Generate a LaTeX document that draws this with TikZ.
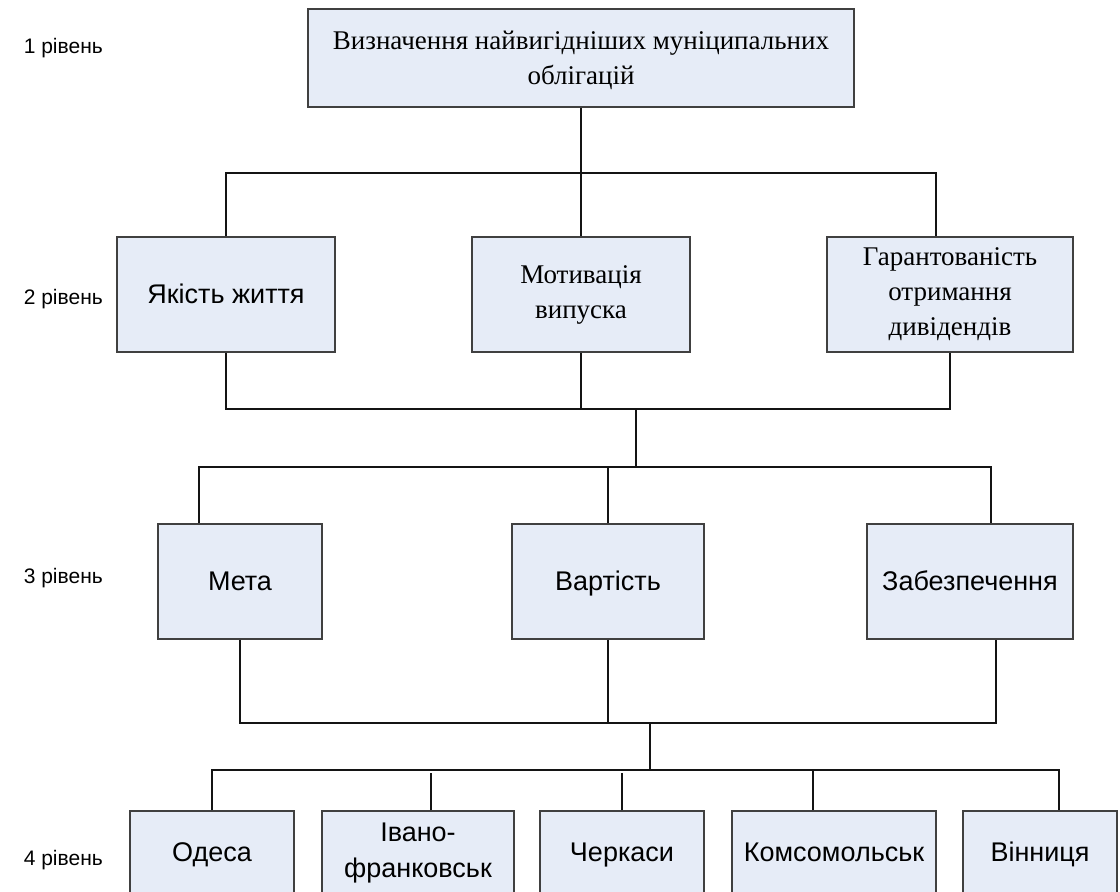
\documentclass[tikz,border=0pt]{standalone}
\usepackage{fontspec}
\setmainfont{Liberation Serif}
\newfontfamily\arialf{Liberation Sans}
\definecolor{boxfill}{RGB}{230,236,247}
\definecolor{boxedge}{RGB}{64,64,64}
\definecolor{linecol}{RGB}{20,20,20}
\tikzset{
  box/.style={draw=boxedge, fill=boxfill, line width=1.2pt, align=center, inner sep=0pt},
  sbox/.style={box, font=\arialf\fontsize{27}{36}\selectfont},
  sone/.style={sbox, text height=21pt, text depth=4pt},
  tbox/.style={box, font=\fontsize{27}{35}\selectfont},
  lvl/.style={anchor=base east, inner sep=0pt, font=\arialf\fontsize{21}{26}\selectfont},
  conn/.style={draw=linecol, line width=1.2pt}
}
\begin{document}
\begin{tikzpicture}[x=1pt,y=-1pt]
\path[use as bounding box, clip] (0,0) rectangle (1120,892);
\fill[white] (0,0) rectangle (1120,892);
% level labels
\node[lvl] (l1) at (103,53) {1 рівень};
\node[lvl] (l2) at (103,304) {2 рівень};
\node[lvl] (l3) at (103,583) {3 рівень};
\node[lvl] (l4) at (103,865) {4 рівень};
% level 1
\node[tbox, minimum width=546, minimum height=98] (top) at (581,58) {\rule{0pt}{24pt}Визначення найвигідніших муніципальних\\облігацій};
% level 2
\node[sone, minimum width=218, minimum height=115] (A) at (226,294.5) {Якість життя};
\node[tbox, minimum width=218, minimum height=115] (B) at (581,294.5) {Мотивація\\випуска};
\node[tbox, minimum width=246, minimum height=115] (C) at (950,294.5) {Гарантованість\\отримання\\дивідендів};
% level 3
\node[sone, minimum width=164, minimum height=115] (M) at (240,581.5) {Мета};
\node[sone, minimum width=192, minimum height=115] (V) at (608,581.5) {Вартість};
\node[sone, minimum width=206, minimum height=115] (Z) at (970,581.5) {Забезпечення};
% level 4
\node[sone, minimum width=164, minimum height=84] (O) at (212,853) {Одеса};
\node[sbox, minimum width=192, minimum height=84] (I) at (418,853) {Івано-\\франковськ};
\node[sone, minimum width=164, minimum height=84] (Ch) at (622,853) {Черкаси};
\node[sone, minimum width=204, minimum height=84] (K) at (834,853) {Комсомольськ};
\node[sone, minimum width=154, minimum height=84] (W) at (1040,853) {Вінниця};
% junction coordinates
\coordinate (h1) at (581,173);
\coordinate (j2) at (636,409);
\coordinate (j3) at (636,467);
\coordinate (j4) at (650,723);
\coordinate (j5) at (650,770);
% level 1 -> 2
\draw[conn] (top.south) -- (B.north);
\draw[conn] (A.north) -- (A.north |- h1) -- ([xshift=-14pt]C.north |- h1) -- ([xshift=-14pt]C.north);
% level 2 -> 3
\draw[conn] (A.south) -- (A.south |- j2) -- (C.south |- j2) -- (C.south);
\draw[conn] (B.south) -- (B.south |- j2);
\draw[conn] (j2) -- (j3);
\draw[conn] ([xshift=-41pt]M.north) -- ([xshift=-41pt]M.north |- j3) -- ([xshift=21pt]Z.north |- j3) -- ([xshift=21pt]Z.north);
\draw[conn] (V.north) -- (V.north |- j3);
% level 3 -> 4
\draw[conn] (M.south) -- (M.south |- j4) -- ([xshift=26pt]Z.south |- j4) -- ([xshift=26pt]Z.south);
\draw[conn] (V.south) -- (V.south |- j4);
\draw[conn] (j4) -- (j5);
\draw[conn] (O.north) -- (O.north |- j5) -- ([xshift=19pt]W.north |- j5) -- ([xshift=19pt]W.north);
\draw[conn] ([xshift=-21pt]K.north) -- ([xshift=-21pt]K.north |- j5);
\draw[conn] ([xshift=13pt]I.north) -- ([xshift=13pt,yshift=37pt]I.north);
\draw[conn] (Ch.north) -- ([yshift=37pt]Ch.north);
\end{tikzpicture}
\end{document}
